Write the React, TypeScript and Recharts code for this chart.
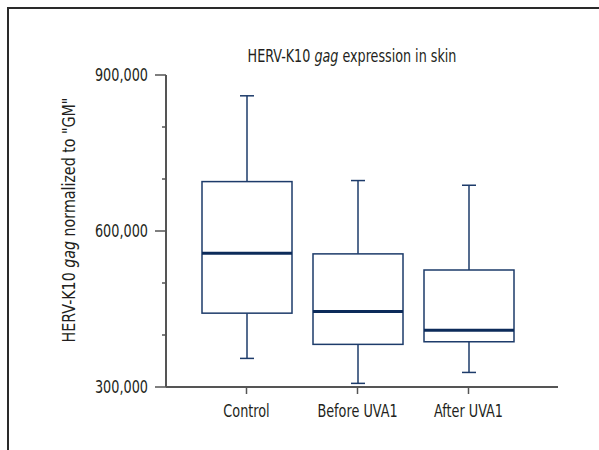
import React from 'react';
import { ComposedChart, Bar, XAxis, YAxis, Customized } from 'recharts';

const categories = ['Control', 'Before UVA1', 'After UVA1'];
const minValues = [355000, 307000, 328000];
const q1Values = [442000, 382000, 387000];
const medianValues = [557000, 445000, 409000];
const q3Values = [695000, 556000, 525000];
const maxValues = [860000, 697000, 688000];
const yTicks = [300000, 400000, 500000, 600000, 700000, 800000, 900000];
const labeledTicks = [300000, 600000, 900000];

const data = categories.map((name, i) => ({
  name,
  range: [minValues[i], maxValues[i]],
  min: minValues[i],
  q1: q1Values[i],
  median: medianValues[i],
  q3: q3Values[i],
  max: maxValues[i],
}));

const FONT = '"DejaVu Sans Condensed", "Liberation Sans Narrow", sans-serif';
const BOX = '#1d3b6a';
const MED = '#0c2b5a';
const AXIS = '#555555';
const TEXT = '#231f20';
const SX = 0.84;

const BoxShape = (props: any) => {
  const { x, y, width, height, payload } = props;
  const { min, max, q1, median, q3 } = payload;
  const ppu = height / (max - min);
  const py = (v: number) => y + (max - v) * ppu;
  const cx = x + width / 2;
  const cap = 7;
  return (
    <g>
      <line x1={cx} x2={cx} y1={py(max)} y2={py(q3)} stroke={BOX} strokeWidth={1.5} />
      <line x1={cx - cap} x2={cx + cap} y1={py(max)} y2={py(max)} stroke={BOX} strokeWidth={1.5} />
      <line x1={cx} x2={cx} y1={py(q1)} y2={py(min)} stroke={BOX} strokeWidth={1.5} />
      <line x1={cx - cap} x2={cx + cap} y1={py(min)} y2={py(min)} stroke={BOX} strokeWidth={1.5} />
      <rect x={x} y={py(q3)} width={width} height={py(q1) - py(q3)} fill="#ffffff" stroke={BOX} strokeWidth={1.5} />
      <line x1={x} x2={x + width} y1={py(median)} y2={py(median)} stroke={MED} strokeWidth={3} />
    </g>
  );
};

const YTick = (props: any) => {
  const { x, y, payload } = props;
  const v = payload.value;
  const major = labeledTicks.includes(v);
  return (
    <g>
      <line x1={x - (major ? 11 : 4)} x2={x} y1={y} y2={y} stroke={AXIS} strokeWidth={1.5} />
      {major && (
        <text
          transform={`translate(${x - 18},${y}) scale(${SX},1)`}
          dy="0.35em"
          textAnchor="end"
          fontSize={17}
          fill={TEXT}
          fontFamily={FONT}
        >
          {v.toLocaleString('en-US')}
        </text>
      )}
    </g>
  );
};

const XTick = (props: any) => {
  const { x, y, payload } = props;
  return (
    <text
      transform={`translate(${x},${y}) scale(${SX},1)`}
      dy="0.71em"
      textAnchor="middle"
      fontSize={17}
      fill={TEXT}
      fontFamily={FONT}
    >
      {payload.value}
    </text>
  );
};

const Titles = () => (
  <g fontFamily={FONT} fill={TEXT}>
    <text transform={`translate(352,62) scale(0.81,1)`} textAnchor="middle" fontSize={17.5}>
      HERV-K10 <tspan fontStyle="italic">gag</tspan> expression in skin
    </text>
    <text transform={`translate(75,220) rotate(-90) scale(0.88,1)`} textAnchor="middle" fontSize={18}>
      HERV-K10 <tspan fontStyle="italic">gag</tspan> normalized to "GM"
    </text>
  </g>
);

export default function App() {
  return (
    <div style={{ position: 'absolute', left: 0, top: 0, width: 599, height: 450, background: '#fff' }}>
      <div
        style={{
          position: 'absolute',
          left: 7,
          top: 7,
          width: 592,
          height: 443,
          borderTop: '2px solid #2a2a2a',
          borderLeft: '2px solid #2a2a2a',
          boxSizing: 'border-box',
        }}
      />
      <div style={{ position: 'absolute', left: 0, top: 0 }}>
        <ComposedChart width={599} height={450} data={data} margin={{ top: 75, right: 41, bottom: 0, left: 0 }}>
          <XAxis
            dataKey="name"
            padding={{ left: 25, right: 34 }}
            height={63}
            axisLine={{ stroke: AXIS, strokeWidth: 2 }}
            tickLine={{ stroke: AXIS, strokeWidth: 1.5 }}
            tickSize={7}
            tickMargin={11}
            tick={<XTick />}
          />
          <YAxis
            domain={[300000, 900000]}
            ticks={yTicks}
            width={166}
            axisLine={{ stroke: AXIS, strokeWidth: 2 }}
            tickLine={false}
            tickSize={0}
            tickMargin={0}
            tick={<YTick />}
            interval={0}
          />
          <Bar dataKey="range" barSize={90} shape={<BoxShape />} isAnimationActive={false} />
          <Customized component={Titles} />
        </ComposedChart>
      </div>
    </div>
  );
}
